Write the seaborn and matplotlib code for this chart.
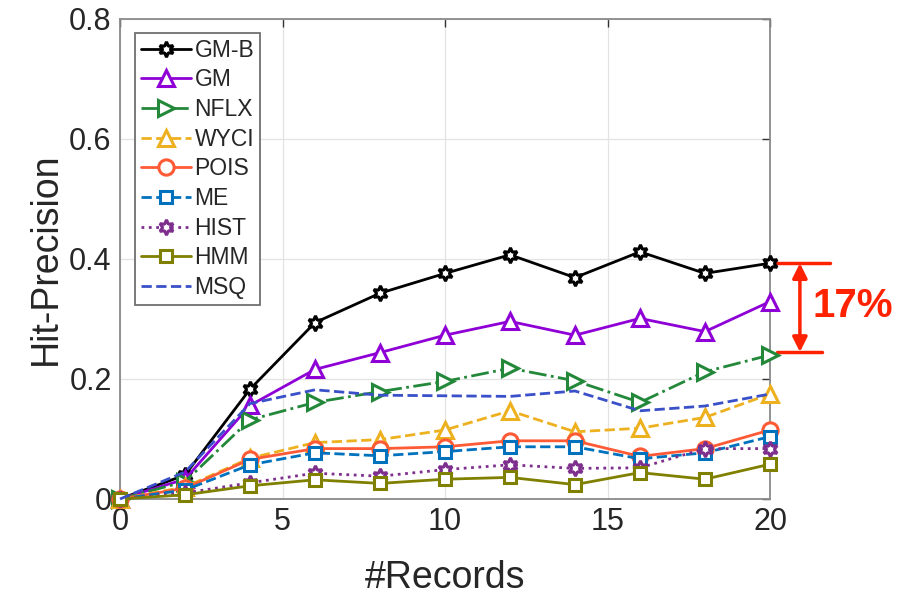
import numpy as np
import pandas as pd
import matplotlib
matplotlib.use('Agg')
import matplotlib.pyplot as plt
import seaborn as sns

# Dados
records = [0, 2, 4, 6, 8, 10, 12, 14, 16, 18, 20]

gm_b = [0, 0.040, 0.183, 0.294, 0.343, 0.376, 0.407, 0.369, 0.412, 0.376, 0.393]
gm   = [0, 0.033, 0.156, 0.216, 0.244, 0.273, 0.296, 0.273, 0.301, 0.279, 0.329]
nflx = [0, 0.029, 0.132, 0.161, 0.179, 0.196, 0.218, 0.197, 0.161, 0.212, 0.240]
wyci = [0, 0.020, 0.068, 0.094, 0.099, 0.115, 0.147, 0.112, 0.118, 0.136, 0.175]
pois = [0, 0.018, 0.066, 0.084, 0.084, 0.087, 0.097, 0.097, 0.071, 0.084, 0.115]
me   = [0, 0.015, 0.057, 0.077, 0.072, 0.079, 0.087, 0.087, 0.067, 0.077, 0.104]
hist = [0, 0.010, 0.027, 0.043, 0.038, 0.049, 0.057, 0.051, 0.052, 0.084, 0.084]
hmm  = [0, 0.007, 0.022, 0.032, 0.026, 0.033, 0.036, 0.024, 0.044, 0.033, 0.058]
msq  = [0, 0.045, 0.159, 0.182, 0.173, 0.172, 0.171, 0.180, 0.147, 0.155, 0.175]

series_names = ['GM-B', 'GM', 'NFLX', 'WYCI', 'POIS', 'ME', 'HIST', 'HMM', 'MSQ']
series_values = [gm_b, gm, nflx, wyci, pois, me, hist, hmm, msq]

x_ticks = [0, 5, 10, 15, 20]
y_ticks = [0, 0.2, 0.4, 0.6, 0.8]
y_tick_labels = ['0', '0.2', '0.4', '0.6', '0.8']
gap_label = '17%'

# Estilo de cada série (cor, marcador, linha)
estilos = {
    'GM-B': ('#000000', (6, 1, 0), '-'),
    'GM':   ('#8E00D6', '^', '-'),
    'NFLX': ('#23883A', '>', '-.'),
    'WYCI': ('#EDB120', '^', '--'),
    'POIS': ('#FF5A36', 'o', '-'),
    'ME':   ('#0072BD', 's', '--'),
    'HIST': ('#7E2F8E', (6, 1, 0), ':'),
    'HMM':  ('#808000', 's', '-'),
    'MSQ':  ('#3A50C8', None, '--'),
}

sns.set_theme(style='whitegrid')
plt.rcParams['font.family'] = ['Liberation Sans', 'DejaVu Sans']

fig = plt.figure(figsize=(8.97, 5.99), dpi=100)
ax = fig.add_axes([120 / 897, 1 - 499 / 599, 650 / 897, 480 / 599])

df = pd.DataFrame({'records': records})
for nome, valores in zip(series_names, series_values):
    df[nome] = valores

for nome in series_names:
    cor, marcador, linha = estilos[nome]
    sns.lineplot(data=df, x='records', y=nome, ax=ax, color=cor, marker=marcador,
                 linestyle=linha, linewidth=2.0, markersize=11 if marcador != 's' else 8,
                 markerfacecolor='white', markeredgecolor=cor, markeredgewidth=2.2,
                 label=nome, clip_on=False, zorder=3)

ax.set_xlim(0, 20)
ax.set_ylim(0, 0.8)
ax.set_xticks(x_ticks)
ax.set_xticklabels([str(t) for t in x_ticks])
ax.set_yticks(y_ticks)
ax.set_yticklabels(y_tick_labels)
ax.tick_params(axis='both', labelsize=22, colors='#262626', direction='in',
               length=6, width=1, top=True, right=True, pad=6)
ax.tick_params(axis='both', color='#333333')
ax.set_xlabel('#Records', fontsize=27, color='#262626', labelpad=16)
ax.set_ylabel('Hit-Precision', fontsize=27, color='#262626', labelpad=4)
ax.grid(True, color='#e3e3e3', linewidth=0.9)
ax.set_facecolor('white')
for s in ax.spines.values():
    s.set_color('#8a8a8a')
    s.set_linewidth(1.3)

leg = ax.legend(loc='upper left', bbox_to_anchor=(0.023, 0.971), fontsize=16.5,
                frameon=True, fancybox=False, handlelength=2.2, handletextpad=0.15,
                labelspacing=0.29, borderpad=0.25, borderaxespad=0)
leg.get_frame().set_edgecolor('#6f6f6f')
leg.get_frame().set_linewidth(1.3)
leg.get_frame().set_facecolor('white')
leg.get_frame().set_alpha(1)

# Anotação da diferença entre GM-B e NFLX
topo = gm_b[-1]
base = nflx[-1]
vermelho = '#FF2200'
ax.plot([20.2, 21.85], [topo, topo], color=vermelho, lw=2.5, clip_on=False)
ax.plot([20.2, 21.6], [base + 0.005, base + 0.005], color=vermelho, lw=2.5, clip_on=False)
ax.annotate('', xy=(20.92, topo), xytext=(20.92, base + 0.005),
            arrowprops=dict(arrowstyle='<|-|>', color=vermelho, lw=2.5,
                            mutation_scale=22, shrinkA=0, shrinkB=0),
            annotation_clip=False)
ax.text(21.3, (topo + base) / 2 + 0.005, gap_label, color=vermelho, fontsize=29,
        fontweight='bold', va='center', ha='left', clip_on=False)

fig.savefig('out.png', dpi=100)
